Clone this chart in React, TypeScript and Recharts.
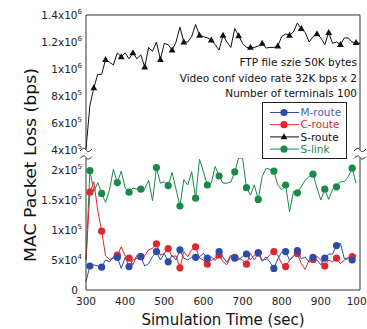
import { LineChart, Line, XAxis, YAxis, ReferenceLine, Legend } from 'recharts';

const times = [
  300, 310, 320, 330, 340, 350, 360, 370, 380, 390, 400, 410, 420, 430, 440, 450, 460, 470, 480, 490,
  500, 510, 520, 530, 540, 550, 560, 570, 580, 590, 600, 610, 620, 630, 640, 650, 660, 670, 680, 690,
  700, 710, 720, 730, 740, 750, 760, 770, 780, 790, 800, 810, 820, 830, 840, 850, 860, 870, 880, 890,
  900, 910, 920, 930, 940, 950, 960, 970, 980, 990, 1000,
];

// bps
const sRoute = [
  410000, 730000, 860000, 960000, 960000, 1070000, 1050000, 1030000, 1120000, 1090000, 1120000, 1075000,
  1120000, 1075000, 1105000, 1015000, 1160000, 1130000, 1200000, 1070000, 1190000, 1180000, 1140000,
  1200000, 1310000, 1200000, 1200000, 1240000, 1330000, 1250000, 1240000, 1230000, 1215000, 1180000,
  1140000, 1250000, 1200000, 1160000, 1300000, 1245000, 1190000, 1160000, 1160000, 1160000, 1170000,
  1190000, 1155000, 1160000, 1160000, 1170000, 1240000, 1260000, 1250000, 1275000, 1340000, 1300000,
  1270000, 1200000, 1240000, 1260000, 1230000, 1180000, 1270000, 1190000, 1200000, 1180000, 1230000,
  1230000, 1200000, 1195000, 1190000,
];

const sLink = [
  50000, 199000, 164000, 179000, 161000, 146000, 167000, 201000, 179000, 198000, 170000, 163000, 170000,
  168000, 168000, 168000, 183000, 149000, 204000, 178000, 180500, 174000, 196000, 168000, 140000, 184000,
  175000, 197000, 153000, 218000, 197000, 175000, 178000, 206000, 190000, 178000, 178000, 180000, 197000,
  220000, 220000, 170500, 158000, 175000, 151000, 189000, 203000, 201000, 198000, 175000, 167000, 175000,
  130500, 164000, 162000, 172000, 183000, 189000, 193000, 170000, 150000, 168000, 151000, 168000, 172000,
  180500, 180500, 189000, 203000, 178000, null,
];

const cRoute = [
  50000, 163000, 180500, 133000, 98000, 57000, 51000, 53000, 58000, 72000, 57000, 53000, 42000, 58000,
  55500, 57000, 67000, 69500, 77000, 58000, 61000, 69000, 55500, 57000, 37000, 64000, 55500, 67000, 72000,
  53000, 50000, 43000, 55500, 49000, 58000, 47000, 42000, 56000, 54500, 53000, 50000, 43000, 61000, 50000,
  62000, 50000, 51000, 59000, 64000, 58000, 44000, 39000, 50000, 56000, 61000, 44000, 34500, 50000, 51000,
  56000, 50000, 40000, 50000, 47000, 53000, 44000, 50000, 52000, 55500, 57000, null,
];

const mRoute = [
  14000, 40000, 42000, 40000, 38000, 50000, 47000, 55500, 54500, 36000, 54500, 39000, 50000, 53000, 55500,
  40000, 44000, 55500, 64000, 50000, 61000, 47000, 58000, 50000, 67000, 53000, 50000, 54500, 54500, 55500,
  61000, 53000, 49000, 53000, 64000, 55000, 46000, 58000, 53000, 50000, 56000, 60000, 50000, 58000, 62000,
  48000, 55000, 46000, 36000, 52000, 63000, 64000, 50000, 56000, 65500, 52000, 55000, 46000, 54500, 50000,
  42000, 53000, 60000, 60000, 74000, 78000, 52000, 54000, 50000, 59000, null,
];

// marker positions (sec)
const lowerMarks = [310, 340, 380, 410, 440, 480, 510, 540, 580, 610, 640, 680, 710, 740, 780, 810, 840, 880, 910, 940, 980];
const upperMarks = [320, 350, 390, 420, 450, 490, 520, 550, 590, 620, 650, 690, 720, 750, 790, 820, 850, 890, 920, 950, 990];

const xTicks = [300, 400, 500, 600, 700, 800, 900, 1000];
const upperTicks = [400000, 600000, 800000, 1000000, 1200000, 1400000];
const lowerTicks = [0, 50000, 100000, 150000, 200000];

const BLUE = '#2d4ca8';
const RED = '#e2262d';
const GREEN = '#1a8a48';
const BLACK = '#111';
const FRAME = '#333';
const FONT = '"DejaVu Sans", sans-serif';

const upperData = times.map((t, i) => ({ t, sRoute: sRoute[i] }));
const lowerData = times.map((t, i) => ({ t, mRoute: mRoute[i], cRoute: cRoute[i], sLink: sLink[i] }));

const sci = (v: number) => {
  if (v === 0) return ['0', ''];
  const e = Math.floor(Math.log10(v));
  const m = Number((v / Math.pow(10, e)).toFixed(2));
  return [`${m}x10`, String(e)];
};

const SciTick = ({ x, y, payload }: any) => {
  const [m, e] = sci(payload.value);
  return (
    <text x={e ? x : x - 4} y={y} dy="0.36em" textAnchor="end" fontSize={10.5} fontFamily={FONT} fill="#222">
      {m}
      {e && (
        <tspan dy={-5} fontSize={7}>
          {e}
        </tspan>
      )}
    </text>
  );
};

const Tri = ({ cx, cy, color }: any) => (
  <path d={`M${cx},${cy - 3.6} L${cx + 3.4},${cy + 2.4} L${cx - 3.4},${cy + 2.4} Z`} fill={color} />
);

const makeDot = (marks: number[], color: string, tri = false) => (props: any) => {
  const { cx, cy, payload, index } = props;
  if (cy == null || !marks.includes(payload.t)) return <g key={`n${index}`} />;
  return tri ? (
    <g key={`d${index}`}>
      <Tri cx={cx} cy={cy} color={color} />
    </g>
  ) : (
    <circle key={`d${index}`} cx={cx} cy={cy} r={3.6} fill={color} />
  );
};

const legendItems = [
  { name: 'M-route', color: BLUE, text: '#4a62bd', tri: false },
  { name: 'C-route', color: RED, text: RED, tri: false },
  { name: 'S-route', color: BLACK, text: BLACK, tri: true },
  { name: 'S-link', color: GREEN, text: GREEN, tri: false },
];

const LegendBox = () => (
  <svg width={85} height={57} style={{ display: 'block' }}>
    <rect x={0.5} y={0.5} width={84} height={56} fill="#fff" stroke="#222" />
    {legendItems.map((it, i) => {
      const y = 10.5 + i * 12.2;
      return (
        <g key={it.name}>
          <line x1={8} x2={37} y1={y} y2={y} stroke={it.color} strokeWidth={1} />
          {it.tri ? <Tri cx={22} cy={y} color={it.color} /> : <circle cx={22} cy={y} r={3.6} fill={it.color} />}
          <text x={38.5} y={y} dy="0.36em" fontSize={10.5} fontFamily={FONT} fill={it.text}>
            {it.name}
          </text>
        </g>
      );
    })}
  </svg>
);

const tilde = (cx: number, cy: number) =>
  `M${cx - 6},${cy + 1} C${cx - 3},${cy - 2.5} ${cx - 1},${cy - 2} ${cx},${cy} S${cx + 3},${cy + 2.5} ${cx + 6},${cy - 1}`;

export default function App() {
  return (
    <div style={{ position: 'absolute', left: 0, top: 0, width: 367, height: 329, background: '#fff' }}>
      <div style={{ position: 'absolute', left: 0, top: 0, zIndex: 2 }}>
        <LineChart width={367} height={160} data={upperData} margin={{ top: 15, right: 7, left: 6, bottom: 10 }}>
          <XAxis dataKey="t" type="number" domain={[300, 1000]} hide />
          <YAxis
            domain={[400000, 1400000]}
            ticks={upperTicks}
            allowDataOverflow
            width={80}
            tickLine={false}
            tickSize={0}
            tickMargin={4}
            axisLine={{ stroke: FRAME }}
            tick={<SciTick />}
            interval={0}
          />
          <ReferenceLine y={1400000} stroke={FRAME} ifOverflow="visible" />
          <ReferenceLine x={1000} stroke={FRAME} ifOverflow="visible" />
          <Line
            dataKey="sRoute"
            stroke={BLACK}
            strokeWidth={1}
            dot={makeDot(upperMarks, BLACK, true)}
            activeDot={false}
            isAnimationActive={false}
          />
          <Legend
            layout="horizontal"
            verticalAlign="middle"
            align="center"
            content={() => <LegendBox />}
            wrapperStyle={{ position: 'absolute', left: 262, top: 102, width: 85, height: 57 }}
          />
        </LineChart>
      </div>
      <div style={{ position: 'absolute', left: 0, top: 150, zIndex: 1 }}>
        <LineChart width={367} height={179} data={lowerData} margin={{ top: 8, right: 7, left: 6, bottom: 0 }}>
          <XAxis
            dataKey="t"
            type="number"
            domain={[300, 1000]}
            ticks={xTicks}
            interval={0}
            height={39}
            tickLine={false}
            axisLine={{ stroke: FRAME }}
            tick={{ fontSize: 10.5, fontFamily: FONT, fill: '#222' }}
            label={{
              value: 'Simulation Time (sec)',
              position: 'insideBottom',
              offset: 4,
              fontSize: 15,
              fontFamily: FONT,
              fill: '#111',
            }}
          />
          <YAxis
            domain={[0, 220000]}
            ticks={lowerTicks}
            allowDataOverflow
            width={80}
            tickLine={false}
            tickSize={0}
            tickMargin={4}
            axisLine={{ stroke: FRAME }}
            tick={<SciTick />}
            interval={0}
          />
          <ReferenceLine x={1000} stroke={FRAME} ifOverflow="visible" />
          <Line dataKey="sLink" stroke={GREEN} strokeWidth={1} dot={makeDot(lowerMarks, GREEN)} activeDot={false} isAnimationActive={false} />
          <Line dataKey="cRoute" stroke={RED} strokeWidth={1} dot={makeDot(lowerMarks, RED)} activeDot={false} isAnimationActive={false} />
          <Line dataKey="mRoute" stroke={BLUE} strokeWidth={1} dot={makeDot(lowerMarks, BLUE)} activeDot={false} isAnimationActive={false} />
        </LineChart>
      </div>
      <svg width={367} height={329} style={{ position: 'absolute', left: 0, top: 0, zIndex: 3, pointerEvents: 'none' }}>
        <text
          transform="rotate(-90)"
          x={-165}
          y={36}
          textAnchor="middle"
          fontSize={15.5}
          textLength={194}
          lengthAdjust="spacingAndGlyphs"
          fontFamily={FONT}
          fill="#111"
        >
          MAC Packet Loss (bps)
        </text>
        <g fontSize={10.5} fontFamily={FONT} fill="#111" textAnchor="end">
          <text x={357} y={66}>FTP file szie 50K bytes</text>
          <text x={357} y={81.5}>Video conf video rate 32K bps x 2</text>
          <text x={357} y={96.5}>Number of terminals 100</text>
        </g>
        <g fill="none" stroke={FRAME} strokeWidth={1}>
          <path d={tilde(86, 150)} />
          <path d={tilde(86, 157.5)} />
          <path d={tilde(360, 150)} />
          <path d={tilde(360, 157.5)} />
        </g>
      </svg>
    </div>
  );
}
